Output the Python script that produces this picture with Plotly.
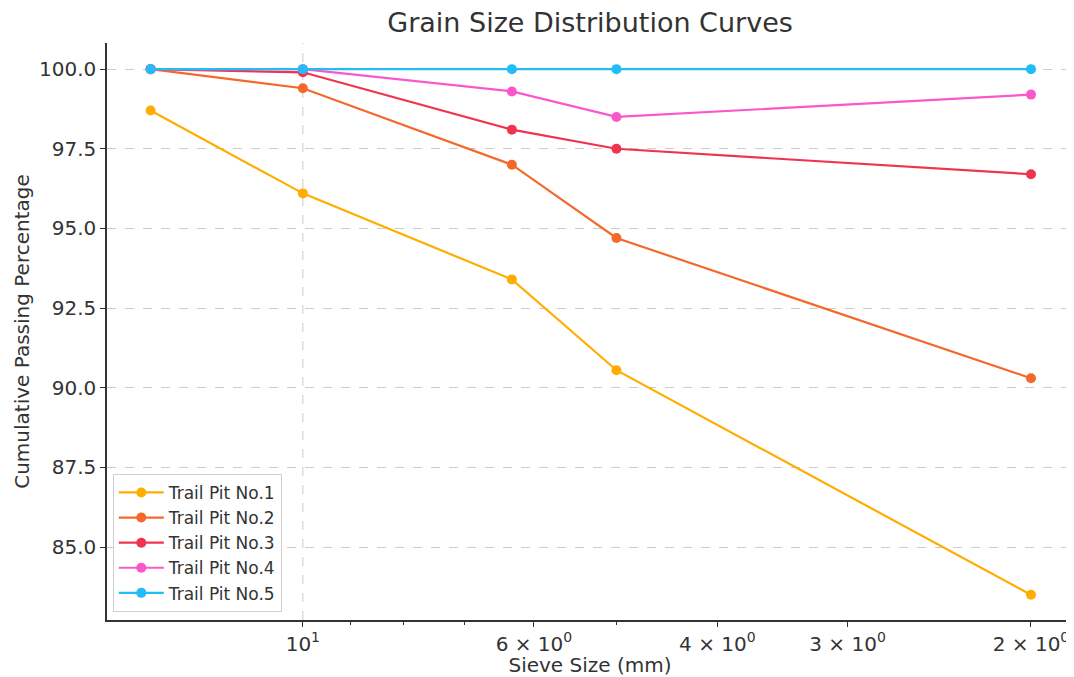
import plotly.graph_objects as go

sieve_sizes = [14.0, 10.0, 6.3, 5.0, 2.0]
pit1 = [98.7, 96.1, 93.4, 90.55, 83.5]
pit2 = [100.0, 99.4, 97.0, 94.7, 90.3]
pit3 = [100.0, 99.9, 98.1, 97.5, 96.7]
pit4 = [100.0, 100.0, 99.3, 98.5, 99.2]
pit5 = [100.0, 100.0, 100.0, 100.0, 100.0]
series_names = ["Trail Pit No.1", "Trail Pit No.2", "Trail Pit No.3", "Trail Pit No.4", "Trail Pit No.5"]
colors = ["#FFAD00", "#F4692A", "#F0334F", "#FA57CB", "#22BDF7"]

x_tick_vals = [10, 6, 4, 3, 2]
x_tick_text = ["10<sup>1</sup>", "6 × 10<sup>0</sup>", "4 × 10<sup>0</sup>", "3 × 10<sup>0</sup>", "2 × 10<sup>0</sup>"]
x_minor_vals = [9, 8, 7, 5]
x_major_grid = [10]
y_tick_vals = [85.0, 87.5, 90.0, 92.5, 95.0, 97.5, 100.0]
x_range = [1.188, 0.2607]
y_range = [82.71, 100.82]

fig = go.Figure()

# major vertical gridline at 10^1
for gx in x_major_grid:
    fig.add_trace(go.Scatter(x=[gx, gx], y=y_range, mode="lines", showlegend=False,
                             hoverinfo="skip", line=dict(color="#CCCCCC", width=1, dash="dash")))

for name, vals, c in zip(series_names, [pit1, pit2, pit3, pit4, pit5], colors):
    fig.add_trace(go.Scatter(
        x=sieve_sizes, y=vals, name=name, mode="lines+markers",
        line=dict(color=c, width=2.2), marker=dict(color=c, size=10),
    ))

font = "DejaVu Sans, sans-serif"
txt = "#333333"
# the page body has an 8px margin, so the figure is sized to the visible area
fig.update_layout(
    width=1066, height=669,
    margin=dict(l=99, r=1, t=35, b=57),
    paper_bgcolor="white", plot_bgcolor="white",
    font=dict(family=font, color=txt),
    title=dict(text="Grain Size Distribution Curves", x=0.546, xanchor="center",
               y=0.9925, yanchor="top", font=dict(size=27, family=font, color=txt)),
    legend=dict(x=0.006, y=0.014, xanchor="left", yanchor="bottom",
                bordercolor="#D0D0D0", borderwidth=1, bgcolor="rgba(255,255,255,0.8)",
                font=dict(size=17, family=font, color=txt), tracegroupgap=0,
                itemwidth=45),
    showlegend=True,
)
fig.update_xaxes(
    type="log", range=x_range, automargin=False,
    tickmode="array", tickvals=x_tick_vals, ticktext=x_tick_text,
    ticks="outside", ticklen=5, tickcolor=txt, tickwidth=1,
    tickfont=dict(size=20, family=font, color=txt),
    showgrid=False, zeroline=False,
    showline=True, linecolor=txt, linewidth=1.5,
    minor=dict(tickvals=x_minor_vals, ticks="outside", ticklen=3, tickcolor=txt, showgrid=False),
    title=dict(text="Sieve Size (mm)", font=dict(size=20, family=font, color=txt), standoff=4),
)
fig.update_yaxes(
    range=y_range, automargin=False,
    tickmode="array", tickvals=y_tick_vals, tickformat=".1f",
    ticks="outside", ticklen=5, tickcolor=txt,
    tickfont=dict(size=20, family=font, color=txt),
    showgrid=True, gridcolor="#CCCCCC", griddash="dash", gridwidth=1,
    zeroline=False, showline=True, linecolor=txt, linewidth=1.5,
    title=dict(text="Cumulative Passing Percentage", font=dict(size=20, family=font, color=txt), standoff=4),
)

fig.write_html("out.html")
